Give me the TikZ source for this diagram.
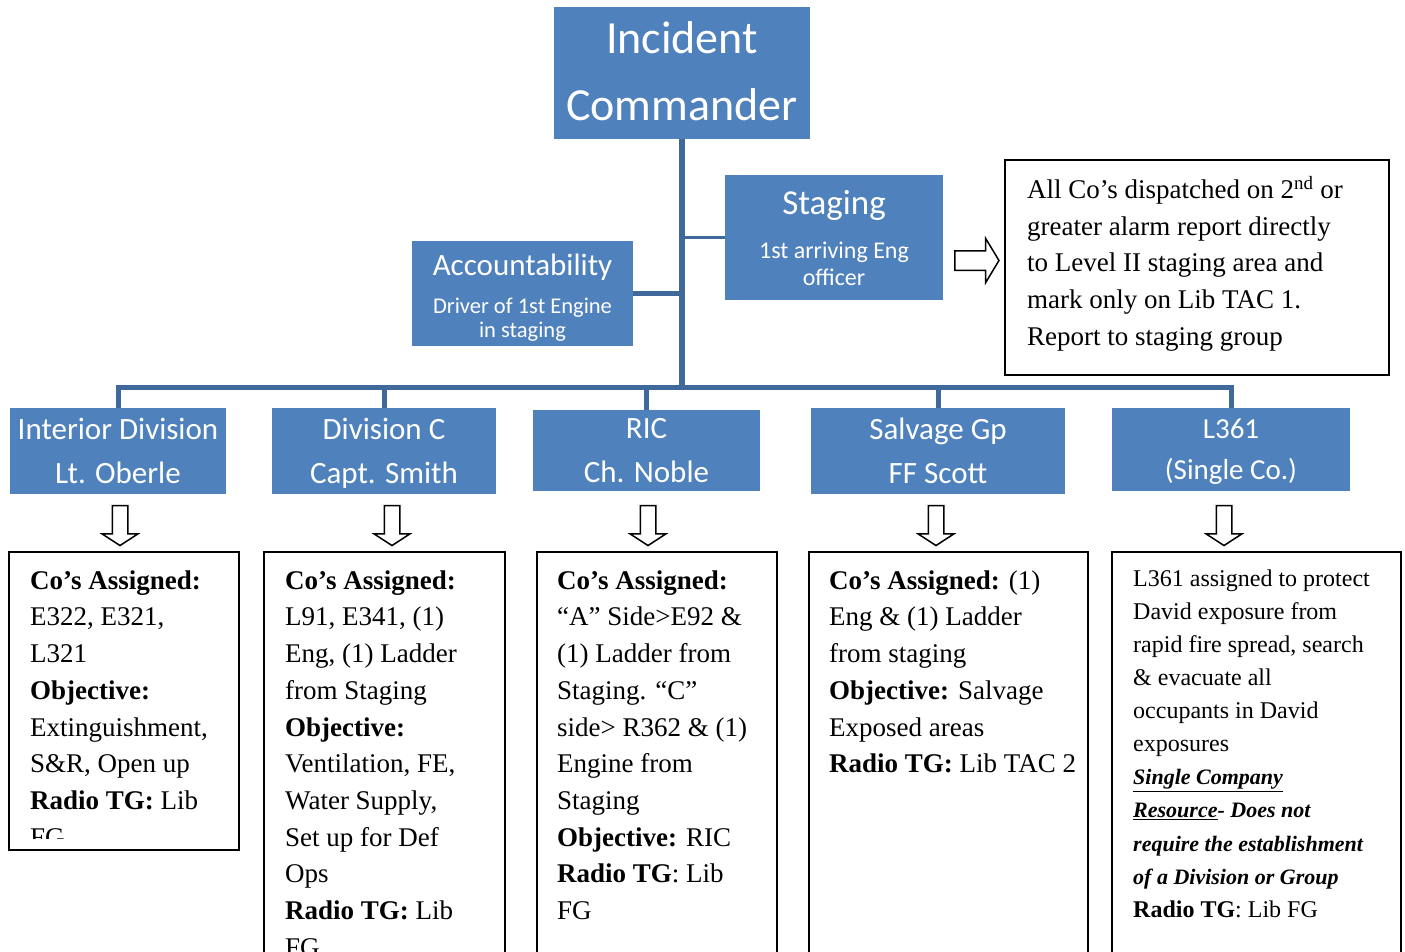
\documentclass[tikz,border=0pt]{standalone}
\usepackage{fontspec}
\setmainfont{Liberation Serif}
\newfontfamily\calibri{Carlito}
\usepackage{xcolor}
\definecolor{boxblue}{HTML}{4F81BD}
\definecolor{linkblue}{HTML}{3F689B}
\usepackage{tikz}
\usetikzlibrary{shapes.arrows}
\newcommand{\linetop}[1]{\rule{0pt}{#1}}
\newcommand{\smallit}[1]{{\fontsize{22}{33.1}\selectfont\textbf{\textit{#1}}}}

\begin{document}
\begin{tikzpicture}[x=1pt, y=-1pt,
  chief/.style={fill=boxblue, inner sep=0pt},
  chieftext/.style={text=white, anchor=north, align=center, inner sep=0pt},
  notebox/.style={draw=black, line width=1.6pt},
  notetext/.style={anchor=north west, align=left, inner sep=0pt, font=\fontsize{27}{36.7}\selectfont},
  link/.style={draw=linkblue, line width=5pt},
  hollow/.style={single arrow, draw=black, fill=white, line width=1.5pt, single arrow head indent=0pt}]
  \clip (0,0) rectangle (1405,951);
  \fill[white] (0,0) rectangle (1405,951);

  \node[chief, minimum width=256pt, minimum height=132pt] (ic) at (682,73) {};
  \node[chieftext, font=\calibri\fontsize{46}{67}\selectfont] (ictext) at (682,19) {\linetop{34pt}Incident\\Commander};

  \node[chief, minimum width=218pt, minimum height=125pt] (staging) at (834,237.5) {};
  \node[chieftext, anchor=base, font=\calibri\fontsize{35}{40}\selectfont] (staginghead) at (834,214) {Staging};
  \node[chieftext, font=\calibri\fontsize{24}{27}\selectfont] (stagingsub) at (834,240) {\linetop{18pt}1st arriving Eng\\officer};

  \node[chief, minimum width=221pt, minimum height=105pt] (account) at (522.5,293.5) {};
  \node[chieftext, anchor=base, font=\calibri\fontsize{31}{36}\selectfont] (accounthead) at (522.5,275) {Accountability};
  \node[chieftext, font=\calibri\fontsize{22.5}{24}\selectfont] (accountsub) at (522.5,296) {\linetop{17pt}Driver of  1st Engine\\in staging};

  \node[chief, minimum width=216pt, minimum height=86pt] (interior) at (118,451) {};
  \node[chieftext, font=\calibri\fontsize{31}{44}\selectfont] (interiortext) at (118,416) {\linetop{23pt}Interior Division\\Lt. Oberle};
  \node[chief, minimum width=224pt, minimum height=86pt] (divc) at (384,451) {};
  \node[chieftext, font=\calibri\fontsize{31}{44}\selectfont] (divctext) at (384,416) {\linetop{23pt}Division C\\Capt. Smith};
  \node[chief, minimum width=227pt, minimum height=81pt] (ric) at (646.5,450.5) {};
  \node[chieftext, font=\calibri\fontsize{31}{44}\selectfont] (rictext) at (646.5,415) {\linetop{23pt}RIC\\Ch. Noble};
  \node[chief, minimum width=254pt, minimum height=86pt] (salvage) at (938,451) {};
  \node[chieftext, font=\calibri\fontsize{31}{44}\selectfont] (salvagetext) at (938,416) {\linetop{23pt}Salvage Gp\\FF Scott};
  \node[chief, minimum width=238pt, minimum height=83pt] (ladder) at (1231,449.5) {};
  \node[chieftext, font=\calibri\fontsize{29}{41}\selectfont] (laddertext) at (1231,416) {\linetop{22pt}L361\\(Single Co.)};

  \coordinate (hub) at (682,387);
  \draw[link, line width=6pt] (ic.south) -- (hub);
  \draw[link, line width=3pt] (staging.west) -- (staging.west -| hub);
  \draw[link] (account.east) -- (account.east -| hub);
  \draw[link] (hub) -| (interior.north);
  \draw[link] (hub) -| (divc.north);
  \draw[link] (hub) -| (ric.north);
  \draw[link] (hub) -| (salvage.north);
  \draw[link] (hub) -| (ladder.north);

  \node[hollow, minimum height=44pt, inner sep=9pt, single arrow head extend=12.5pt, single arrow tip angle=118] (toward) at (974,260.5) {};
  \node[hollow, shape border rotate=270, minimum height=40pt, inner sep=7pt, single arrow head extend=10pt, single arrow tip angle=114] (down1) at (120,523) {};
  \node[hollow, shape border rotate=270, minimum height=40pt, inner sep=7pt, single arrow head extend=10pt, single arrow tip angle=114] (down2) at (392,523) {};
  \node[hollow, shape border rotate=270, minimum height=40pt, inner sep=7pt, single arrow head extend=10pt, single arrow tip angle=114] (down3) at (648,523) {};
  \node[hollow, shape border rotate=270, minimum height=40pt, inner sep=7pt, single arrow head extend=10pt, single arrow tip angle=114] (down4) at (936,523) {};
  \node[hollow, shape border rotate=270, minimum height=40pt, inner sep=7pt, single arrow head extend=10pt, single arrow tip angle=114] (down5) at (1224,523) {};

  \draw[notebox] (1005,160) rectangle (1389,375);
  \node[notetext] (stagingnote) at (1027,176) {\linetop{21pt}All Co’s dispatched on 2\textsuperscript{nd} or\\greater alarm report directly\\to Level II staging area and\\mark only on Lib TAC 1.\\Report to staging group};

  \draw[notebox] (9,552) rectangle (239,850);
  \begin{scope}
    \clip (9,552) rectangle (239,838);
    \node[notetext] (interiornote) at (30,568) {\linetop{21pt}\textbf{Co’s Assigned:}\\E322, E321,\\L321\\\textbf{Objective:}\\Extinguishment,\\S\&R, Open up\\\textbf{Radio TG:} Lib\\FG};
  \end{scope}

  \draw[notebox] (264,552) rectangle (505,970);
  \node[notetext] (divcnote) at (285,568) {\linetop{21pt}\textbf{Co’s Assigned:}\\L91, E341, (1)\\Eng, (1) Ladder\\from Staging\\\textbf{Objective:}\\Ventilation, FE,\\Water Supply,\\Set up for Def\\Ops\\\textbf{Radio TG:} Lib\\FG};

  \draw[notebox] (537,552) rectangle (777,970);
  \node[notetext] (ricnote) at (557,568) {\linetop{21pt}\textbf{Co’s Assigned:}\\“A” Side>E92 \&\\(1) Ladder from\\Staging. “C”\\side> R362 \& (1)\\Engine from\\Staging\\\textbf{Objective:} RIC\\\textbf{Radio TG}: Lib\\FG};

  \draw[notebox] (809,552) rectangle (1088,970);
  \node[notetext] (salvagenote) at (829,568) {\linetop{21pt}\textbf{Co’s Assigned:} (1)\\Eng \& (1) Ladder\\from staging\\\textbf{Objective:} Salvage\\Exposed areas\\\textbf{Radio TG:} Lib TAC 2};

  \draw[notebox] (1112,552) rectangle (1401,970);
  \node[notetext, font=\fontsize{24}{33.1}\selectfont] (laddernote) at (1133,567) {\linetop{19pt}L361 assigned to protect\\David exposure from\\rapid fire spread, search\\\& evacuate all\\occupants in David\\exposures\\\underline{\smallit{Single Company}}\\\underline{\smallit{Resource}}\smallit{- Does not}\\\smallit{require the establishment}\\\smallit{of a Division or Group}\\\textbf{Radio TG}: Lib FG};
\end{tikzpicture}
\end{document}
